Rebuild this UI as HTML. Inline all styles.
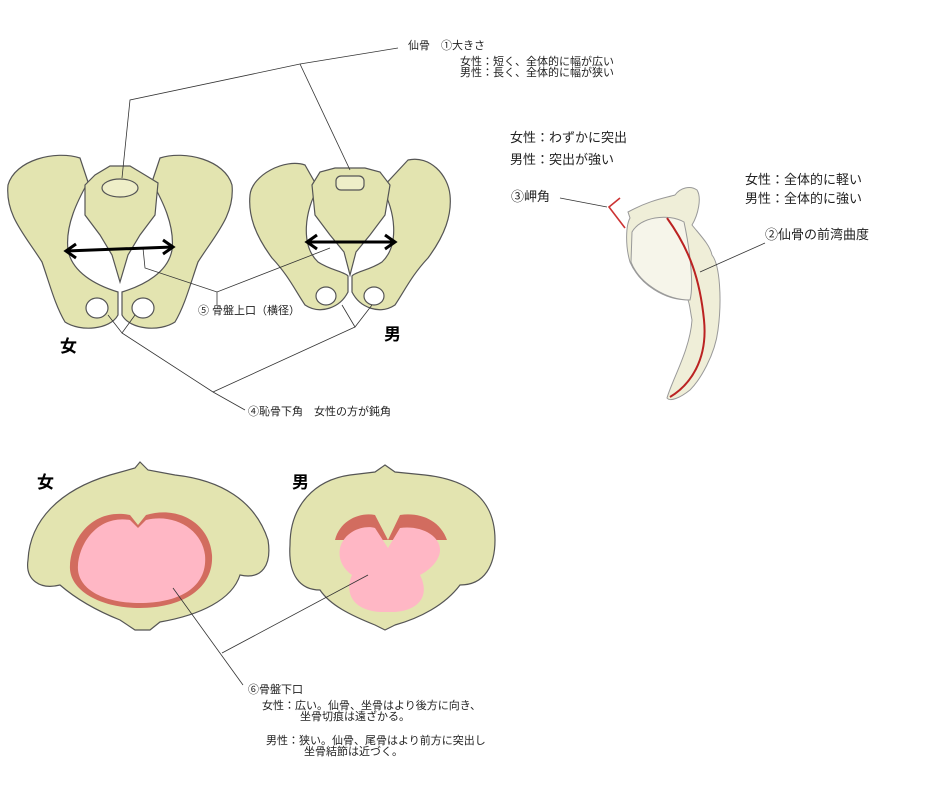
<!DOCTYPE html>
<html><head><meta charset="utf-8"><style>
html,body{margin:0;padding:0;background:#fff;}
body{width:940px;height:785px;overflow:hidden;position:relative;font-family:"Liberation Sans","Noto Sans CJK JP",sans-serif;}
.t{position:absolute;white-space:nowrap;color:#222;}
.s{font-size:11px;line-height:11px;}
.m{font-size:13px;line-height:14px;}
.b{font-size:17px;font-weight:bold;color:#000;}
svg{position:absolute;left:0;top:0;}
</style></head><body>
<svg width="940" height="785" viewBox="0 0 940 785">
<g fill="#e3e4b0" stroke="#555" stroke-width="1.2">
<path d="M8,185 C15,160 55,150 80,158 L88,182 C78,200 65,225 68,250 C72,272 95,285 118,292 L118,315 C110,330 80,332 65,322 C55,305 50,285 42,262 C25,235 5,215 8,185Z"/>
<path d="M232,185 C225,160 185,150 160,158 L152,182 C162,200 175,225 172,250 C168,272 145,285 122,292 L122,315 C130,330 160,332 175,322 C185,305 190,285 198,262 C215,235 235,215 232,185Z"/>
<path d="M85,185 L95,175 L110,166 L130,166 L145,175 L158,183 L155,215 L140,235 L128,255 L120,282 L112,255 L100,235 L85,215Z"/>
<ellipse cx="120" cy="188" rx="18" ry="9" fill="#eeeec8"/>
<ellipse cx="97" cy="308" rx="11" ry="10" fill="#fff"/>
<ellipse cx="143" cy="308" rx="11" ry="10" fill="#fff"/>
<path d="M250,195 C252,175 285,158 305,165 L318,188 C305,210 300,245 318,262 C330,270 345,272 348,276 L348,292 C340,308 320,315 305,305 C295,290 288,275 272,258 C255,235 248,215 250,195Z"/>
<path d="M450,195 C448,175 430,155 408,160 L382,188 C395,210 400,245 382,262 C370,270 355,272 352,276 L352,292 C360,308 380,315 395,305 C405,290 412,275 428,258 C445,235 452,215 450,195Z"/>
<path d="M312,185 L320,172 L335,168 L365,168 L380,172 L390,185 L385,215 L370,235 L356,252 L350,275 L344,252 L330,235 L315,215Z"/>
<rect x="336" y="176" width="28" height="14" rx="5" fill="#eeeec8"/>
<ellipse cx="326" cy="296" rx="10" ry="9" fill="#fff"/>
<ellipse cx="374" cy="296" rx="10" ry="9" fill="#fff"/>
<path d="M28,560 C30,520 60,490 110,475 L135,468 L140,462 L148,470 L175,475 C220,480 255,500 268,540 C272,565 262,580 240,575 C232,600 200,615 160,622 L150,630 L135,630 L120,620 C95,610 75,598 60,585 C40,590 25,580 28,560Z"/>
<path d="M290,545 C290,505 315,480 350,475 L375,472 L385,465 L395,472 L425,475 C470,480 495,500 495,540 C495,565 485,585 460,585 C445,605 420,618 395,625 L385,630 L375,625 C350,615 330,605 320,590 C300,590 288,575 290,545Z"/>
</g>
<g fill="#c44" opacity="0.75">
<path d="M70,565 C72,535 95,508 130,515 L138,525 L146,515 C180,505 210,525 212,555 C214,590 180,608 140,608 C100,608 68,590 70,565Z"/>
<path d="M335,540 C340,520 360,512 375,515 L388,540 L400,515 C420,512 440,520 447,540 Z"/>
</g>
<g fill="#ffb7c5">
<path d="M78,565 C80,540 100,515 130,520 L138,528 L146,520 C175,513 202,530 205,555 C208,588 178,603 140,603 C102,603 76,588 78,565Z"/>
<path d="M340,548 C345,530 365,525 375,528 L388,548 L400,528 C420,525 440,535 440,550 C440,560 430,570 420,575 C430,595 420,610 395,612 L380,612 C350,610 345,590 352,575 C342,568 338,558 340,548Z"/>
</g>
<g fill="#efeed8" stroke="#999" stroke-width="1">
<path d="M628,212 C650,200 665,198 675,195 C680,188 690,185 697,190 C702,198 698,215 692,225 C700,235 710,245 712,255 C720,265 722,300 718,330 C715,355 700,380 690,390 C680,398 670,402 667,398 C672,380 690,350 692,320 C690,310 690,305 688,300 C665,300 640,285 630,262 C625,245 626,225 630,218Z"/>
<path d="M632,232 C640,217 668,213 684,222 C690,250 694,285 690,300 C668,300 640,285 631,262Z" fill="#f6f5ea"/>
</g>
<path d="M667,218 C690,250 700,280 704,320 C708,360 690,385 670,397" stroke="#b22" stroke-width="2" fill="none"/>
<polyline points="620,198 609,207 625,228" stroke="#c33" stroke-width="1.6" fill="none"/>
<g stroke="#333" stroke-width="0.8" fill="none">
<line x1="560" y1="198" x2="607" y2="207"/>
<line x1="765" y1="243" x2="700" y2="272"/>
<polyline points="398,48 300,64 130,100 122,178"/>
<line x1="300" y1="64" x2="350" y2="170"/>
<polyline points="143,248 145,268 217,292 330,248"/>
<line x1="217" y1="292" x2="217" y2="305"/>
<polyline points="108,315 122,333 135,315"/>
<polyline points="122,333 213,392 245,410"/>
<polyline points="342,305 355,327 372,305"/>
<line x1="355" y1="327" x2="213" y2="392"/>
<line x1="173" y1="588" x2="243" y2="685"/>
<line x1="222" y1="653" x2="368" y2="575"/>
</g>
<g stroke="#000" stroke-width="3" fill="none">
<line x1="66" y1="251" x2="173" y2="247"/>
<polyline points="76,244 66,251 76,258"/>
<polyline points="163,240 173,247 163,254"/>
<line x1="307" y1="242" x2="395" y2="242"/>
<polyline points="317,235 307,242 317,249"/>
<polyline points="385,235 395,242 385,249"/>
</g>
</svg>
<div class="t s" style="left:408px;top:41px;">仙骨　①大きさ</div>
<div class="t s" style="left:460px;top:57px;">女性：短く、全体的に幅が広い</div>
<div class="t s" style="left:460px;top:68px;">男性：長く、全体的に幅が狭い</div>
<div class="t s" style="left:198px;top:306px;">⑤ 骨盤上口（横径）</div>
<div class="t s" style="left:248px;top:407px;">④恥骨下角　女性の方が鈍角</div>
<div class="t b" style="left:60px;top:332px;">女</div>
<div class="t b" style="left:384px;top:320px;">男</div>
<div class="t b" style="left:37px;top:468px;">女</div>
<div class="t b" style="left:292px;top:468px;">男</div>
<div class="t m" style="left:510px;top:131px;">女性：わずかに突出</div>
<div class="t m" style="left:510px;top:153px;">男性：突出が強い</div>
<div class="t m" style="left:511px;top:190px;">③岬角</div>
<div class="t m" style="left:745px;top:173px;">女性：全体的に軽い</div>
<div class="t m" style="left:745px;top:192px;">男性：全体的に強い</div>
<div class="t m" style="left:765px;top:228px;">②仙骨の前湾曲度</div>
<div class="t s" style="left:248px;top:685px;">⑥骨盤下口</div>
<div class="t s" style="left:262px;top:701px;">女性：広い。仙骨、坐骨はより後方に向き、</div>
<div class="t s" style="left:300px;top:712px;">坐骨切痕は遠ざかる。</div>
<div class="t s" style="left:266px;top:736px;">男性：狭い。仙骨、尾骨はより前方に突出し</div>
<div class="t s" style="left:304px;top:747px;">坐骨結節は近づく。</div>
</body></html>
